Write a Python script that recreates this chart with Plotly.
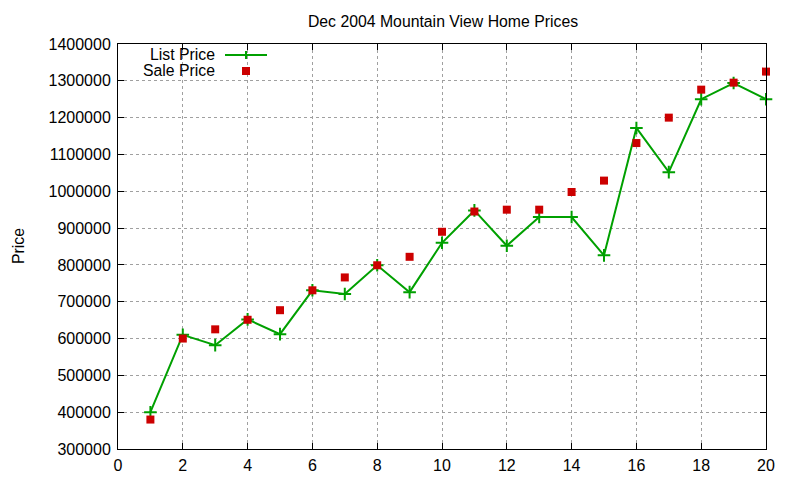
import plotly.graph_objects as go

months = list(range(1, 21))
list_price = [400000, 610000, 582000, 652000, 612000, 731000, 721000, 799000, 726000, 860000,
              948000, 852000, 930000, 930000, 826000, 1172000, 1052000, 1250000, 1294000, 1250000]
sale_price = [380000, 600000, 625000, 651000, 677000, 731000, 766000, 799000, 822000, 890000,
              945000, 950000, 950000, 998000, 1029000, 1131000, 1200000, 1276000, 1295000, 1325000]

title = "Dec 2004 Mountain View Home Prices"
ylabel = "Price"
x_ticks = list(range(0, 21, 2))
y_ticks = list(range(300000, 1400001, 100000))

GREEN = "#00a000"
RED = "#cc0000"
FONT = "Liberation Sans, Arial, sans-serif"
TXT = 15.8

fig = go.Figure()
fig.add_trace(go.Scatter(
    x=months, y=list_price, mode="lines+markers", name="List Price",
    line=dict(color=GREEN, width=2),
    marker=dict(symbol="cross-thin", size=9, line=dict(color=GREEN, width=2)),
    showlegend=False, cliponaxis=False))
fig.add_trace(go.Scatter(
    x=months, y=sale_price, mode="markers", name="Sale Price",
    marker=dict(symbol="square", size=8, color=RED),
    showlegend=False, cliponaxis=False))

axis_common = dict(
    showgrid=True, gridcolor="#a0a0a0", griddash="dot", gridwidth=1,
    showline=True, linecolor="black", linewidth=1, mirror="ticks",
    ticks="inside", ticklen=6, tickcolor="black",
    zeroline=False, tickfont=dict(family=FONT, size=16, color="black"),
)

# page has an 8px body margin; figure sized to fit the 800x480 window
fig.update_layout(
    width=792, height=472,
    paper_bgcolor="white", plot_bgcolor="white",
    margin=dict(l=110, r=34, t=36, b=31, autoexpand=False),
    title=dict(text=title, x=(443 - 8) / 792, xanchor="center", y=1 - (21 - 8) / 472, yanchor="middle",
               font=dict(family=FONT, size=TXT, color="black")),
    xaxis=dict(range=[0, 20], tickvals=x_ticks, ticklabelstandoff=2, **axis_common),
    yaxis=dict(range=[300000, 1400000], tickvals=y_ticks, tickformat="d", ticklabelstandoff=3,
               **axis_common),
    font=dict(family=FONT, size=TXT, color="black"),
)

# page coords -> paper
pw, ph = 648, 405
def px(x):
    return (x - 118) / pw
def py(y):
    return 1 - (y - 44) / ph

# y-axis title
fig.add_annotation(x=px(18), y=py(246), xref="paper", yref="paper", text=ylabel,
                   textangle=-90, showarrow=False, xanchor="center", yanchor="middle",
                   font=dict(family=FONT, size=TXT, color="black"))

# Legend (gnuplot style: text left, sample right)
legend_rows = [("List Price", 55), ("Sale Price", 71)]
for label, yy in legend_rows:
    fig.add_annotation(x=px(217), y=py(yy), xref="paper", yref="paper", text=label,
                       showarrow=False, xanchor="right", yanchor="middle",
                       font=dict(family=FONT, size=TXT, color="black"))
fig.add_shape(type="line", xref="paper", yref="paper", x0=px(225), x1=px(267),
              y0=py(55), y1=py(55), line=dict(color=GREEN, width=2))
fig.add_shape(type="line", xref="paper", yref="paper", x0=px(242), x1=px(250),
              y0=py(55), y1=py(55), line=dict(color=GREEN, width=2))
fig.add_shape(type="line", xref="paper", yref="paper", x0=px(246), x1=px(246),
              y0=py(51), y1=py(59), line=dict(color=GREEN, width=2))
fig.add_shape(type="rect", xref="paper", yref="paper", x0=px(242), x1=px(250),
              y0=py(67), y1=py(75), line=dict(width=0), fillcolor=RED)

fig.write_html("out.html")
